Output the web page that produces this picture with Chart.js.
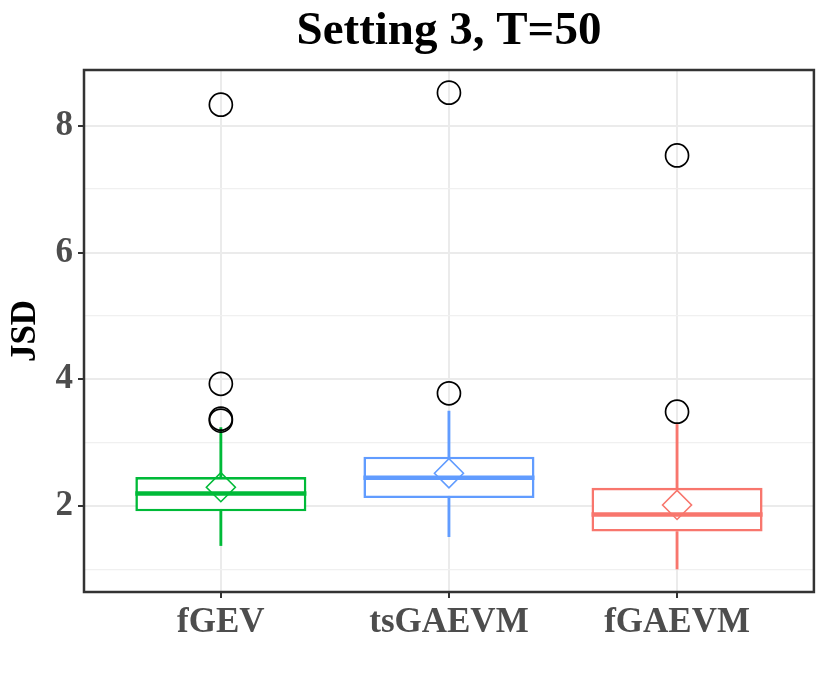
<!DOCTYPE html>
<html>
<head>
<meta charset="utf-8">
<script src="https://cdn.jsdelivr.net/npm/chart.js@4.4.0/dist/chart.umd.min.js"></script>
<style>
html,body{margin:0;padding:0;background:#fff;overflow:hidden;}
#wrap{width:830px;height:691px;position:relative;}
</style>
</head>
<body>
<div id="wrap"><canvas id="c"></canvas></div>
<script>
// ---- data ----
const categories = ['fGEV', 'tsGAEVM', 'fGAEVM'];
const whiskerLow  = [1.38, 1.52, 1.01];
const q1          = [1.92, 2.13, 1.60];
const median      = [2.20, 2.45, 1.87];
const q3          = [2.46, 2.78, 2.29];
const whiskerHigh = [3.24, 3.50, 3.29];
const means       = [2.30, 2.52, 2.02];
const outliersFGEV    = [8.33, 3.93, 3.38, 3.35];
const outliersTsGAEVM = [8.52, 3.78];
const outliersFGAEVM  = [7.53, 3.49];
const yMajorTicks = [2, 4, 6, 8];
const yMinorTicks = [1, 3, 5, 7];
const titleText = 'Setting 3, T=50';
const yTitle = 'JSD';

// ---- styling ----
const colors = ['#00BA38', '#619CFF', '#F8766D'];
const FONT = 'Liberation Serif';
const BOX_FRAC = 0.75;
const outlierLists = [outliersFGEV, outliersTsGAEVM, outliersFGAEVM];

const boxData = categories.map((c, i) => ({x: i, y: [q1[i], q3[i]]}));
const lowData = categories.map((c, i) => ({x: i, y: [whiskerLow[i], q1[i]]}));
const highData = categories.map((c, i) => ({x: i, y: [q3[i], whiskerHigh[i]]}));
const medData = categories.map((c, i) => ({x: i, y: median[i]}));
const meanData = categories.map((c, i) => ({x: i, y: means[i]}));
const outData = [];
outlierLists.forEach((list, i) => list.forEach(v => outData.push({x: i, y: v})));

const panelBorder = {
  id: 'panelBorder',
  afterDatasetsDraw(chart) {
    const a = chart.chartArea, ctx = chart.ctx;
    ctx.save();
    ctx.strokeStyle = '#333333';
    ctx.lineWidth = 2.5;
    ctx.strokeRect(a.left, a.top, a.right - a.left, a.bottom - a.top);
    ctx.restore();
  }
};

new Chart(document.getElementById('c'), {
  type: 'bar',
  data: {
    datasets: [
      {
        type: 'bar', data: boxData, backgroundColor: '#ffffff', borderColor: colors,
        borderWidth: 2.6, borderSkipped: false, barPercentage: BOX_FRAC, categoryPercentage: 1,
        grouped: false, order: 5
      },
      {
        type: 'bar', data: lowData, backgroundColor: colors, borderWidth: 0,
        barThickness: 2.2, grouped: false, order: 6
      },
      {
        type: 'bar', data: highData, backgroundColor: colors, borderWidth: 0,
        barThickness: 2.2, grouped: false, order: 6
      },
      {
        type: 'scatter', data: medData, pointStyle: 'line', pointBorderColor: colors,
        pointBorderWidth: 4.6,
        pointRadius: (ctx) => {
          const xs = ctx.chart.scales.x;
          return Math.abs(xs.getPixelForValue(BOX_FRAC / 2) - xs.getPixelForValue(0));
        },
        order: 4
      },
      {
        type: 'scatter', data: outData, pointStyle: 'circle', pointRadius: 11.5,
        pointBorderColor: '#000000', pointBackgroundColor: 'rgba(0,0,0,0)', pointBorderWidth: 1.7,
        order: 2
      },
      {
        type: 'scatter', data: meanData, pointStyle: 'rectRot', pointRadius: 14.5,
        pointBorderColor: colors, pointBackgroundColor: 'rgba(0,0,0,0)', pointBorderWidth: 1.6,
        order: 1
      }
    ]
  },
  options: {
    responsive: true,
    maintainAspectRatio: false,
    animation: false,
    events: [],
    layout: {padding: {left: 0, right: 12, top: 0, bottom: 0}},
    plugins: {
      legend: {display: false},
      tooltip: {enabled: false},
      title: {
        display: true, text: titleText, color: '#000000', fullSize: false,
        font: {family: FONT, size: 47, weight: 'bold', lineHeight: 1},
        padding: {top: 8, bottom: 15}
      }
    },
    scales: {
      x: {
        type: 'linear', min: -0.6, max: 2.6, offset: false,
        afterBuildTicks: (s) => { s.ticks = categories.map((c, i) => ({value: i})); },
        afterFit: (s) => { s.height = 99; },
        ticks: {
          callback: (v) => categories[v], autoSkip: false, maxRotation: 0, minRotation: 0,
          color: '#4D4D4D', padding: 4,
          font: {family: FONT, size: 35, weight: 'bold'}
        },
        grid: {
          color: '#EBEBEB', lineWidth: 2, offset: false,
          tickColor: '#333333', tickWidth: 2, tickLength: 6
        },
        border: {display: false}
      },
      y: {
        type: 'linear', min: 0.648, max: 8.877,
        afterBuildTicks: (s) => {
          s.ticks = yMinorTicks.concat(yMajorTicks).sort((a, b) => a - b).map(v => ({value: v}));
        },
        afterFit: (s) => { s.width = 84; },
        ticks: {
          callback: (v) => yMajorTicks.includes(v) ? String(v) : '',
          autoSkip: false, color: '#4D4D4D', padding: 5,
          font: {family: FONT, size: 35, weight: 'bold'}
        },
        grid: {
          color: (ctx) => (ctx.tick && yMajorTicks.includes(ctx.tick.value)) ? '#EBEBEB' : '#F0F0F0',
          lineWidth: (ctx) => (ctx.tick && yMajorTicks.includes(ctx.tick.value)) ? 2 : 1.3,
          tickColor: (ctx) => (ctx.tick && yMajorTicks.includes(ctx.tick.value)) ? '#333333' : 'rgba(0,0,0,0)',
          tickWidth: 2, tickLength: 6
        },
        border: {display: false},
        title: {
          display: true, text: yTitle, color: '#000000',
          font: {family: FONT, size: 35, weight: 'bold'},
          padding: {top: 5, bottom: 0}
        }
      }
    }
  },
  plugins: [panelBorder]
});
</script>
</body>
</html>
